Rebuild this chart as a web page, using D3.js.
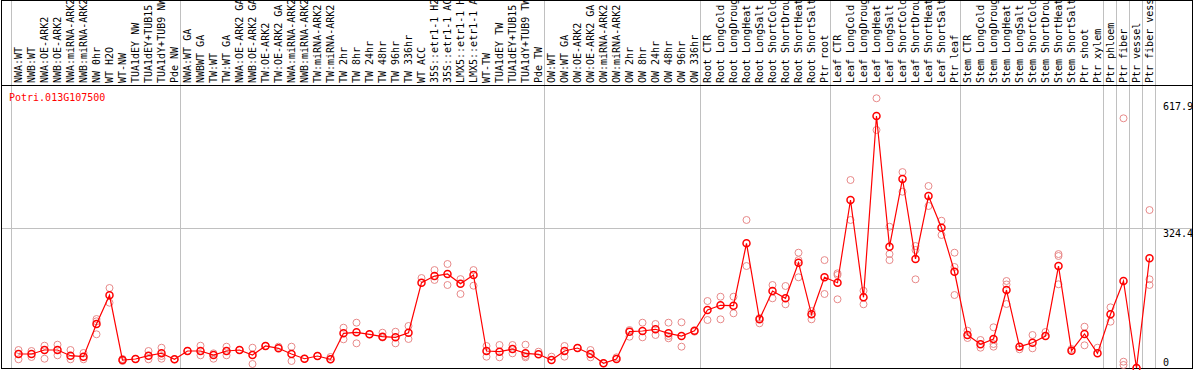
<!DOCTYPE html>
<html>
<head>
<meta charset="utf-8">
<script src="https://cdn.jsdelivr.net/npm/d3@7"></script>
<style>
  body { margin: 0; background: #fff; }
  svg { display: block; }
  text { font-family: "DejaVu Sans Mono", monospace; font-size: 10px; }
</style>
</head>
<body>
<div id="chart"></div>
<script>
// chart size
const WIDTH = 1194
const HEIGHT = 370

// sample labels, left to right
const categories = [
  "NWA:WT", "NWB:WT", "NWA:OE-ARK2", "NWB:OE-ARK2", "NWA:miRNA-ARK2", "NWB:miRNA-ARK2",
  "NW 0hr", "WT H2O", "WT-NW", "TUA1dEY NW", "TUA1dEY+TUB15", "TUA1dY+TUB9 NW", "Pde NW",
  "NWA:WT GA", "NWBWT GA", "TW:WT", "TW:WT GA", "NWA:OE-ARK2 GA", "NWB:OE-ARK2 GA",
  "TW:OE-ARK2", "TW:OE-ARK2 GA", "NWA:miRNA-ARK2", "NWB:miRNA-ARK2", "TW:miRNA-ARK2",
  "TW:miRNA-ARK2", "TW 2hr", "TW 8hr", "TW 24hr", "TW 48hr", "TW 96hr", "TW 336hr",
  "WT ACC", "35S::etr1-1 H2O", "35S::etr1-1 ACC", "LMX5::etr1-1 H2O", "LMX5::etr1-1 ACC",
  "WT-TW", "TUA1dEY TW", "TUA1dEY+TUB15", "TUA1dY+TUB9 TW", "Pde TW",
  "OW:WT", "OW:WT GA", "OW:OE-ARK2", "OW:OE-ARK2 GA", "OW:miRNA-ARK2", "OW:miRNA-ARK2",
  "OW 2hr", "OW 8hr", "OW 24hr", "OW 48hr", "OW 96hr", "OW 336hr",
  "Root CTR", "Root LongCold", "Root LongDrought", "Root LongHeat", "Root LongSalt",
  "Root ShortCold", "Root ShortDrought", "Root ShortHeat", "Root ShortSalt", "Ptr root",
  "Leaf CTR", "Leaf LongCold", "Leaf LongDrought", "Leaf LongHeat", "Leaf LongSalt",
  "Leaf ShortCold", "Leaf ShortDrought", "Leaf ShortHeat", "Leaf ShortSalt", "Ptr leaf",
  "Stem CTR", "Stem LongCold", "Stem LongDrought", "Stem LongHeat", "Stem LongSalt",
  "Stem ShortCold", "Stem ShortDrought", "Stem ShortHeat", "Stem ShortSalt", "Ptr shoot",
  "Ptr xylem", "Ptr phloem", "Ptr fiber", "Ptr vessel", "Ptr fiber vessel"
];

// mean expression per sample
const means = [
  32.4, 32.4, 41.7, 41.7, 28.5, 26.2, 102, 168.5, 18.5, 20.9, 28.5, 34.1, 20.2,
  39.4, 39.4, 30.1, 39.4, 41.7, 30.1, 51, 45.6, 32.4, 21.5, 27.8, 20.2,
  80.4, 82.7, 78.1, 72.5, 71.1, 81.8, 197.6, 213, 218, 195, 215.5,
  39.4, 37.8, 44, 34, 31.7,
  18.5, 39.4, 46.3, 32.4, 10.9, 20.9, 84.1, 85.7, 89.7, 80.4, 74.1, 86.4,
  134.4, 145.3, 144.4, 289, 112.8, 178.4, 161.5, 244, 124.4, 210.2,
  197.6, 389.3, 163.8, 584, 281, 438, 252.6, 398.5, 325, 223,
  76.5, 54.9, 67.2, 180.7, 49.4, 58.6, 74.1, 236.3, 40.1, 78.8,
  34, 124.4, 201.6, 0, 254.2
];

// replicate values per sample
const replicates = [
  [41.7, 20.2], [39.4, 25.5], [51.7, 21.5], [54, 29.4], [41.7, 20.2], [34.8, 20.2],
  [113.5, 108.2, 78.1], [185.4, 151.3], [20.9, 16.2], [20.9], [39.4, 20.2], [47, 21.5, 27.8], [20.2],
  [39.4], [51.7, 29.4], [34, 21.5], [49.4, 29.4], [41.7], [47, 9.3], [51], [49.4],
  [49.4, 16.2], [21.5], [27.8], [20.2, 25.5],
  [93.4, 66.5], [105, 57.2], [78.1], [81.8, 70.7], [84.1, 57.2], [97.3, 67.2],
  [208.5], [227, 204], [241, 192.3], [206, 171.5], [227, 190.7],
  [51, 26.2], [53.3, 24.8], [53.3, 34], [54, 24.8, 27.8], [37.8],
  [26.2], [51, 26.2], [46.3], [41.7, 24.8], [10.9], [24.8],
  [72.5, 88], [105, 71.1], [102, 76.5], [105, 68.8, 74.1], [105.9, 49.4], [84.1],
  [155.2, 111.2], [165.2, 112.8], [165.2, 126.7], [343, 236.3], [103.6, 115.9],
  [192.3, 161.5], [190, 147.6], [267.2, 210.2, 250], [112.8, 132], [250, 171.5],
  [219.4, 159.2, 215.5], [435.6, 343], [179, 147.6], [625, 551.5], [327.4, 264, 250],
  [454, 408.5], [282.7, 205.5, 273.4], [421.7, 375.4], [341.3, 308.2], [267.2, 169.1, 234],
  [86.4, 69.5], [64.9, 47], [94.3, 49.4, 55.6], [201.6, 148.3, 193.5], [43.3],
  [76.5, 45.6], [83.4], [259.5, 194, 264], [44], [95.7, 52.6],
  [47], [140.6, 107.3], [578.6, 14.6, 7], [0], [366, 205.5, 192.3]
];

// sample indices where a group starts (vertical separators)
const groupBreaks = [0, 13, 41, 53, 63, 73, 84, 85, 86, 87, 88];

// y-axis labels on the right
const yTicks = [617.9, 324.4, 0];
const gridValue = 324.4;

const geneName = "Potri.013G107500";

const PLOT = {left: 2, right: 1192, top: 85, bottom: 368};

const SVG = d3.select("#chart")
  .append("svg")
    .attr("width", WIDTH)
    .attr("height", HEIGHT);

const X = d3.scaleBand()
  .domain(d3.range(categories.length))
  .range([11.5, 11.5 + 13 * categories.length]);

const Y = d3.scaleLinear()
  .domain([0, gridValue])
  .range([PLOT.bottom, 228]);

const cx = (i) => X(i) + X.bandwidth() / 2 + 0.5;

// vertical separators run through the label area too
SVG.selectAll(".vgrid")
  .data(groupBreaks)
  .enter()
  .append("line")
    .attr("x1", (d) => Math.round(X(d) ?? (X(categories.length - 1) + X.step())) - 0.5)
    .attr("x2", (d) => Math.round(X(d) ?? (X(categories.length - 1) + X.step())) - 0.5)
    .attr("y1", 0)
    .attr("y2", PLOT.bottom)
    .attr("stroke", "#c0c0c0");

// horizontal grid line
SVG.append("line")
  .attr("x1", PLOT.left)
  .attr("x2", PLOT.right)
  .attr("y1", Math.round(Y(gridValue)) + 0.5)
  .attr("y2", Math.round(Y(gridValue)) + 0.5)
  .attr("stroke", "#c0c0c0");

// frame
SVG.append("rect")
  .attr("x", 1.5)
  .attr("y", 0.5)
  .attr("width", PLOT.right - 1)
  .attr("height", PLOT.bottom)
  .attr("fill", "none")
  .attr("stroke", "#000");

SVG.append("line")
  .attr("x1", 1)
  .attr("x2", PLOT.right + 1)
  .attr("y1", PLOT.top + 0.5)
  .attr("y2", PLOT.top + 0.5)
  .attr("stroke", "#000");

// rotated sample labels
SVG.selectAll(".lab")
  .data(categories)
  .enter()
  .append("text")
    .attr("transform", (d, i) => "translate(" + (cx(i) + 3.5) + "," + (PLOT.top - 2) + ") rotate(-90)")
    .attr("fill", "#000")
    .text((d) => d);

// y labels
SVG.selectAll(".ylab")
  .data(yTicks)
  .enter()
  .append("text")
    .attr("x", 1163)
    .attr("y", (d) => d === 0 ? PLOT.bottom - 2 : Y(d) + 9)
    .attr("fill", "#000")
    .text((d) => d);

// gene title
SVG.append("text")
  .attr("x", 9)
  .attr("y", 100.5)
  .attr("fill", "#ff0000")
  .text(geneName);

// replicate points
const repPoints = [];
replicates.forEach((r, i) => r.forEach((v) => repPoints.push({i: i, v: v})));

SVG.selectAll(".rep")
  .data(repPoints)
  .enter()
  .append("circle")
    .attr("cx", (d) => cx(d.i))
    .attr("cy", (d) => Y(d.v))
    .attr("r", 3.5)
    .attr("fill", "none")
    .attr("stroke", "#e88a8a")
    .attr("stroke-width", 1);

// mean line
const line = d3.line()
  .x((d, i) => cx(i))
  .y((d) => Y(d));

SVG.append("path")
  .datum(means)
  .attr("d", line)
  .attr("fill", "none")
  .attr("stroke", "#ff0000")
  .attr("stroke-width", 1.2);

SVG.selectAll(".mean")
  .data(means)
  .enter()
  .append("circle")
    .attr("cx", (d, i) => cx(i))
    .attr("cy", (d) => Y(d))
    .attr("r", 3.5)
    .attr("fill", "none")
    .attr("stroke", "#ff0000")
    .attr("stroke-width", 1.5);
</script>
</body>
</html>
